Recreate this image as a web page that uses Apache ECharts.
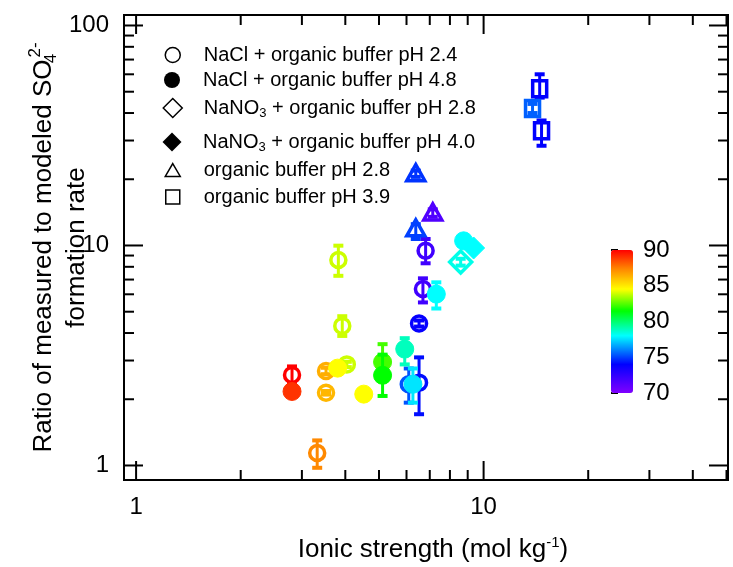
<!DOCTYPE html>
<html><head><meta charset="utf-8">
<script src="https://cdn.jsdelivr.net/npm/echarts@6/dist/echarts.min.js"></script>
<style>html,body{margin:0;padding:0;background:#fff}#c{width:733px;height:567px}</style>
</head><body><div id="c"></div>
<script>
const FONT = "'Liberation Sans', Arial, Helvetica, sans-serif";

// ---- tick values ----
const xTickLabels = [1, 10];
const yTickLabels = [1, 10, 100];
const xMinorTicks = [2, 3, 4, 5, 6, 7, 8, 9, 20, 30, 40, 50];
const yMinorTicks = [2, 3, 4, 5, 6, 7, 8, 9, 20, 30, 40, 50, 60, 70, 80, 90];
const cbarTickLabels = [70, 75, 80, 85, 90];

// ---- data: [ionic strength, ratio, errLow, errHigh, colour value] ----
const naclPH24 = [
  [2.81, 2.58, 2.37, 2.82, 90],
  [3.52, 2.69, 2.60, 2.78, 86.4],
  [3.52, 2.14, 2.10, 2.18, 86.2],
  [4.04, 2.88, 2.80, 2.96, 83.9],
  [6.09, 2.34, 1.93, 2.76, 75.3],
  [6.52, 2.38, 1.71, 3.10, 74.2],
  [6.52, 4.42, 4.28, 4.56, 73.8],
  [6.69, 6.34, 5.51, 7.09, 72],
  [6.81, 9.47, 8.30, 10.7, 72],
  [3.82, 8.59, 7.28, 9.98, 83.9],
  [3.92, 4.31, 3.88, 4.77, 83.9],
  [3.32, 1.14, 0.976, 1.30, 87.3]
];
const naclPH48 = [
  [2.81, 2.17, 2.12, 2.22, 89],
  [3.80, 2.77, 2.77, 2.77, 84.5],
  [4.52, 2.11, 2.11, 2.11, 84.5],
  [5.12, 2.95, 2.44, 3.56, 82.3],
  [5.12, 2.57, 2.07, 3.19, 81.5],
  [5.93, 3.38, 2.88, 3.79, 78.9],
  [6.26, 2.34, 1.93, 2.76, 77.6],
  [7.31, 6.01, 5.17, 6.80, 78],
  [8.76, 10.5, 10.2, 10.8, 78]
];
const nano3PH28 = [[8.59, 8.41, 8.1, 8.7, 78.3]];
const nano3PH40 = [[9.36, 9.74, 9.5, 10.0, 78]];
const orgPH28 = [
  [6.38, 21.2, 20.5, 21.9, 74.8],
  [7.14, 14.06, 13.5, 14.6, 71.5],
  [6.38, 11.9, 10.7, 12.5, 75]
];
const orgPH39 = [
  [14.5, 51.6, 47, 60.0, 74],
  [13.83, 41.9, 40, 44, 75.5],
  [14.68, 33.2, 28.4, 37, 74]
];

const seriesNames = [
  'NaCl + organic buffer pH 2.4',
  'NaCl + organic buffer pH 4.8',
  'NaNO3 + organic buffer pH 2.8',
  'NaNO3 + organic buffer pH 4.0',
  'organic buffer pH 2.8',
  'organic buffer pH 3.9'
];

// ---- colour bar stops (style) ----
const cbarStops = [[70,'#8000ff'],[74,'#0000ff'],[78,'#00ffff'],[81.5,'#00ff00'],[84.5,'#ffff00'],[87.5,'#ff8000'],[90,'#ff0000']];
function hx(c){return [parseInt(c.slice(1,3),16),parseInt(c.slice(3,5),16),parseInt(c.slice(5,7),16)];}
const cbarColors = [];
for (let i = 0; i <= 80; i++) {
  const v = 70 + i * 0.25;
  let k = 0;
  while (k < cbarStops.length - 2 && v > cbarStops[k + 1][0]) k++;
  const a = cbarStops[k], b = cbarStops[k + 1];
  const t = Math.min(1, Math.max(0, (v - a[0]) / (b[0] - a[0])));
  const ca = hx(a[1]), cb = hx(b[1]);
  cbarColors.push('rgb(' + ca.map((q, j) => Math.round(q + (cb[j] - q) * t)).join(',') + ')');
}

function makeRender(shape, filled) {
  return function (params, api) {
    const c = api.visual('color');
    const x = api.value(0);
    const p = api.coord([x, api.value(1)]);
    const lo = api.coord([x, api.value(2)])[1];
    const hi = api.coord([x, api.value(3)])[1];
    const kids = [];
    if (Math.abs(lo - hi) > 1) {
      kids.push({type: 'line', shape: {x1: p[0], y1: lo, x2: p[0], y2: hi}, style: {stroke: c, lineWidth: 3}});
      kids.push({type: 'rect', shape: {x: p[0] - 5, y: hi - 2, width: 10, height: 4}, style: {fill: c}});
      kids.push({type: 'rect', shape: {x: p[0] - 5, y: lo - 2, width: 10, height: 4}, style: {fill: c}});
    }
    const ms = filled ? {fill: c, stroke: c, lineWidth: 1} : {fill: 'none', stroke: c, lineWidth: 3.5};
    const X = p[0], Y = p[1];
    if (shape === 'circle') {
      kids.push({type: 'circle', shape: {cx: X, cy: Y, r: filled ? 9 : 7.5}, style: ms});
    } else if (shape === 'diamond') {
      kids.push({type: 'polygon', shape: {points: [[X, Y - 11], [X + 11, Y], [X, Y + 11], [X - 11, Y]]}, style: ms});
    } else if (shape === 'triangle') {
      kids.push({type: 'polygon', shape: {points: [[X, Y - 9], [X + 9, Y + 7], [X - 9, Y + 7]]}, style: ms});
    } else {
      kids.push({type: 'rect', shape: {x: X - 7, y: Y - 8, width: 14, height: 16}, style: ms});
    }
    return {type: 'group', children: kids};
  };
}

function renderTicks(params, api) {
  const cs = params.coordSys;
  const kind = api.value(2);
  const L = (kind % 2 === 0) ? 19 : 10;
  const st = {stroke: '#000', lineWidth: 2};
  if (kind < 2) {
    const px = api.coord([api.value(0), 1])[0];
    return {type: 'group', children: [
      {type: 'line', shape: {x1: px, y1: cs.y + cs.height, x2: px, y2: cs.y + cs.height - L}, style: st},
      {type: 'line', shape: {x1: px, y1: cs.y, x2: px, y2: cs.y + L}, style: st}
    ]};
  } else {
    const py = api.coord([1, api.value(1)])[1];
    return {type: 'group', children: [
      {type: 'line', shape: {x1: cs.x, y1: py, x2: cs.x + L, y2: py}, style: st},
      {type: 'line', shape: {x1: cs.x + cs.width, y1: py, x2: cs.x + cs.width - L, y2: py}, style: st}
    ]};
  }
}

const tickData = []
  .concat(xTickLabels.map(v => [v, 1, 0]))
  .concat(xMinorTicks.map(v => [v, 1, 1]))
  .concat(yTickLabels.map(v => [1, v, 2]))
  .concat(yMinorTicks.map(v => [1, v, 3]));

const circlePath = 'path://M0,-10A10,10,0,1,1,0,10A10,10,0,1,1,0,-10Z';
const diamondPath = 'path://M0,-10L10,0L0,10L-10,0Z';
const trianglePath = 'path://M0,0L10,17.3L-10,17.3Z';
const squarePath = 'path://M0,0L10,0L10,10L0,10Z';

const legendRows = [
  {icon: circlePath, h: 15, fill: '#fff', center: 55},
  {icon: circlePath, h: 16, fill: '#000', center: 80},
  {icon: diamondPath, h: 19, fill: '#fff', center: 108},
  {icon: diamondPath, h: 19, fill: '#000', center: 142},
  {icon: trianglePath, h: 15, fill: '#fff', center: 170},
  {icon: squarePath, h: 14, fill: '#fff', center: 197}
];

const richSub = {fontSize: 13, fontFamily: FONT, color: '#000', verticalAlign: 'bottom', lineHeight: 12};
const richSup = {fontSize: 15, fontFamily: FONT, color: '#000', verticalAlign: 'top', lineHeight: 12};

const chart = echarts.init(document.getElementById('c'), null, {renderer: 'canvas'});

const shapes = [['circle', false], ['circle', true], ['diamond', false], ['diamond', true], ['triangle', false], ['square', false]];
const dataSets = [naclPH24, naclPH48, nano3PH28, nano3PH40, orgPH28, orgPH39];
const drawOrder = [0, 2, 4, 5, 1, 3];

const series = drawOrder.map(i => ({
  type: 'custom',
  name: seriesNames[i],
  xAxisIndex: 0, yAxisIndex: 0,
  encode: {x: 0, y: 1},
  itemStyle: {color: '#000'},
  renderItem: makeRender(shapes[i][0], shapes[i][1]),
  data: dataSets[i],
  z: shapes[i][1] ? 3 : 2
}));
series.push({
  type: 'custom', name: 'ticks', xAxisIndex: 0, yAxisIndex: 0,
  encode: {x: 0, y: 1}, renderItem: renderTicks, data: tickData, silent: true, z: 5
});

const option = {
  animation: false,
  backgroundColor: '#fff',
  grid: [
    {left: 124, top: 15, width: 604, height: 465, show: true, borderColor: '#000', borderWidth: 2,
     backgroundColor: 'transparent', containLabel: false, outerBoundsMode: 'none'},
    {left: 611, top: 250, width: 22, height: 143, containLabel: false, outerBoundsMode: 'none'}
  ],
  xAxis: [
    {
      type: 'log', logBase: 10, min: 0.923, max: 50.5, gridIndex: 0,
      axisLine: {show: false}, axisTick: {show: false}, splitLine: {show: false},
      axisLabel: {
        fontSize: 24, fontFamily: FONT, color: '#000', margin: 15,
        formatter: v => (xTickLabels.some(t => Math.abs(t - v) < 1e-6) ? String(Math.round(v)) : '')
      },
      name: 'Ionic strength (mol kg{sup|-1})', nameLocation: 'middle', nameGap: 55, nameMoveOverlap: false,
      nameTextStyle: {fontSize: 26, fontFamily: FONT, color: '#000', lineHeight: 30, padding: [0, 0, 0, 14],
        rich: {sup: richSup}}
    },
    {type: 'value', gridIndex: 1, show: false, min: 0, max: 1}
  ],
  yAxis: [
    {
      type: 'log', logBase: 10, min: 0.859, max: 111.6, gridIndex: 0,
      axisLine: {show: false}, axisTick: {show: false}, splitLine: {show: false},
      axisLabel: {
        fontSize: 24, fontFamily: FONT, color: '#000', margin: 15,
        formatter: v => (yTickLabels.some(t => Math.abs(t - v) < 1e-6) ? String(Math.round(v)) : '')
      },
      name: 'Ratio of measured to modeled SO{sub|4}{sup|2-}\nformation rate',
      nameLocation: 'middle', nameRotate: 90, nameGap: 31, nameMoveOverlap: false,
      nameTextStyle: {fontSize: 26, fontFamily: FONT, color: '#000', lineHeight: 33, align: 'center',
        rich: {sub: {fontSize: 17, fontFamily: FONT, color: '#000', verticalAlign: 'bottom', lineHeight: 16, width: 2},
               sup: {fontSize: 17, fontFamily: FONT, color: '#000', verticalAlign: 'top', lineHeight: 14}}}
    },
    {
      type: 'value', gridIndex: 1, min: 70, max: 90, interval: 5, position: 'right',
      axisLine: {show: false}, splitLine: {show: false},
      axisTick: {show: true, length: 7, lineStyle: {color: '#000', width: 2}},
      axisLabel: {fontSize: 24, fontFamily: FONT, color: '#000', margin: 10,
        formatter: v => (cbarTickLabels.indexOf(v) >= 0 ? String(v) : '')}
    }
  ],
  visualMap: {
    type: 'continuous', min: 70, max: 90, dimension: 4, seriesIndex: [0, 1, 2, 3, 4, 5],
    calculable: false, hoverLink: false, left: 611, top: 250, itemWidth: 22, itemHeight: 143,
    padding: 0, text: null, inRange: {color: cbarColors}
  },
  legend: legendRows.map((r, i) => ({
    data: [{name: seriesNames[i], icon: r.icon,
            itemStyle: {color: r.fill, borderColor: '#000', borderWidth: r.fill === '#000' ? 0 : 1.5}}],
    left: 172 - r.h / 2, top: r.center - 12, padding: 0, itemWidth: r.h, itemHeight: r.h,
    selectedMode: false,
    formatter: n => '{sp| }' + n.replace('NaNO3', 'NaNO{sub|3}'),
    textStyle: {fontSize: 20, fontFamily: FONT, color: '#000', lineHeight: 24,
      rich: {sub: richSub, sp: {width: 26 - r.h / 2, fontSize: 20, fontFamily: FONT}}}
  })),
  series: series
};
chart.setOption(option);
</script>
</body></html>
